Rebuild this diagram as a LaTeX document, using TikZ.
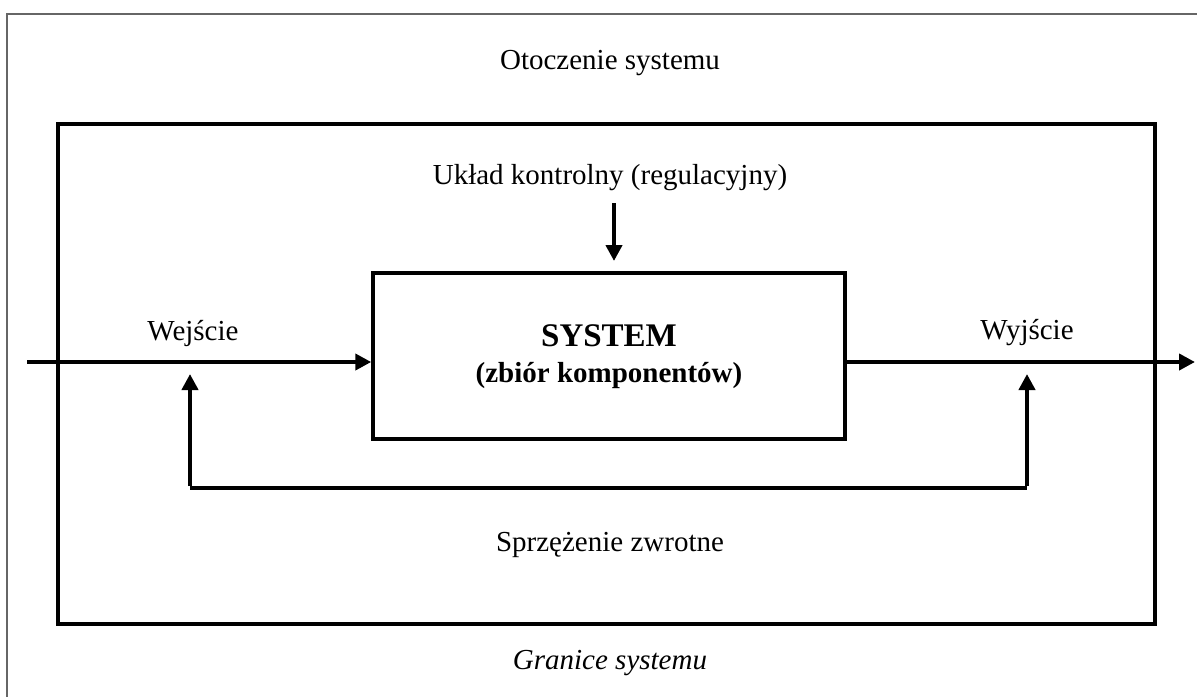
\documentclass[tikz,border=0pt]{standalone}
\usepackage{fontspec}
\setmainfont{Liberation Serif}
\usetikzlibrary{arrows.meta}
\begin{document}
\begin{tikzpicture}[x=1pt,y=-1pt,
  txt/.style={inner sep=0pt,font=\fontsize{29}{34}\selectfont},
  frameline/.style={line width=3.5pt},
  conn/.style={line width=4pt,-{Triangle[length=16pt,width=16pt]}},
  plain/.style={line width=4pt}]
\useasboundingbox (0,0) rectangle (1197,697);
% outer environment frame (top and left edges)
\draw[gray!80!black,line width=1.5pt] (1197,14) -- (7,14) -- (7,697);
% system boundary
\draw[frameline] (58,124) rectangle (1155,624);
% the system block
\node[draw,frameline,minimum width=472pt,minimum height=166pt,inner sep=0pt,align=center]
  (sys) at (609,356) {};
\node[inner sep=0pt,font=\fontsize{33}{38}\selectfont\bfseries] (systitle) at (609,336) {SYSTEM};
\node[inner sep=0pt,font=\fontsize{29}{34}\selectfont\bfseries] (syssub) at (609,376) {(zbiór komponentów)};
% labels
\node[txt] (env) at (610,63) {Otoczenie systemu};
\node[txt] (ctrl) at (610,178) {Układ kontrolny (regulacyjny)};
\node[txt] (inlbl) at (193,333) {Wejście};
\node[txt] (outlbl) at (1027,333) {Wyjście};
\node[txt] (fb) at (610,545) {Sprzężenie zwrotne};
\node[txt,font=\fontsize{29}{34}\selectfont\itshape] (bound) at (610,663) {Granice systemu};
% connector end points
\coordinate (inStart) at (27,362);
\coordinate (outEnd) at (1195,362);
\coordinate (ctrlTop) at (614,203);
\coordinate (ctrlTip) at (614,261);
\coordinate (fbInTip) at (190,374);
\coordinate (fbOutTip) at (1027,374);
\coordinate (fbLeft) at (190,488);
\coordinate (fbRight) at (1027,488);
% input, output and control arrows
\draw[conn] (inStart) -- (inStart -| sys.west);
\draw[conn] (outEnd -| sys.east) -- (outEnd);
\draw[conn] (ctrlTop) -- (ctrlTip);
% feedback loop
\draw[plain] (fbLeft) -- (fbRight);
\draw[conn] ([yshift=2pt]fbLeft) -- (fbInTip);
\draw[conn] ([yshift=2pt]fbRight) -- (fbOutTip);
\end{tikzpicture}
\end{document}
